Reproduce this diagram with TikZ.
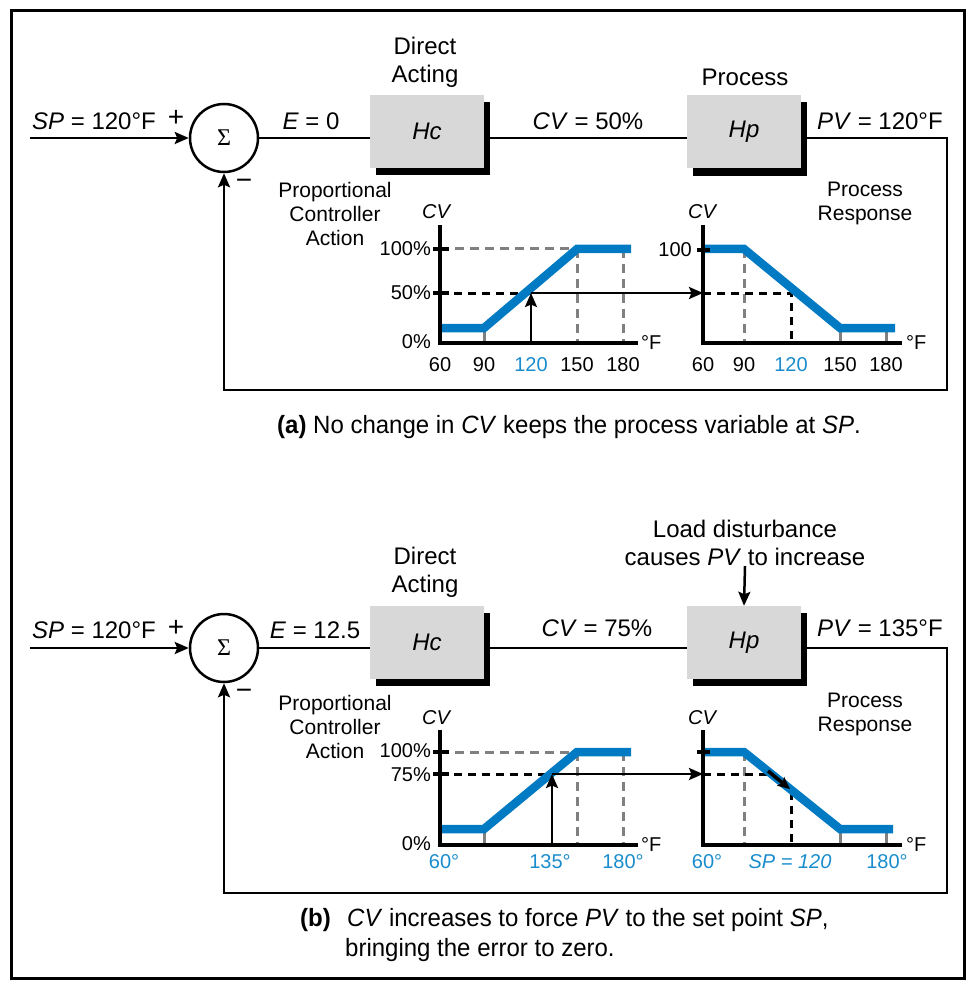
\documentclass[tikz,border=0pt]{standalone}
\usepackage{fontspec}
\setmainfont{Liberation Sans}
\newfontfamily\capfont[FakeStretch=0.96]{Liberation Sans}
\newfontfamily\sigfont{Liberation Serif}
\usetikzlibrary{arrows.meta,backgrounds}
\definecolor{cblue}{RGB}{0,122,194}
\definecolor{lblue}{RGB}{25,140,205}
\definecolor{boxgray}{RGB}{216,216,216}
\definecolor{dgray}{RGB}{128,128,128}
\begin{document}
\begin{tikzpicture}[x=1pt,y=-1pt,
  big/.style={font=\fontsize{24}{28}\selectfont, inner sep=0pt, align=center},
  mid/.style={font=\fontsize{21}{24}\selectfont, inner sep=0pt, align=center},
  tck/.style={font=\fontsize{20}{24}\selectfont, inner sep=0pt},
  btck/.style={tck, text=lblue},
  cvl/.style={font=\fontsize{20}{22}\selectfont\itshape, inner sep=0pt},
  capn/.style={font=\capfont\fontsize{25}{30}\selectfont, inner sep=0pt, align=left},
  pm/.style={font=\fontsize{28}{30}\selectfont, inner sep=0pt},
  sumnode/.style={circle, draw, line width=2.5pt, minimum size=68pt, inner sep=0pt, font=\sigfont\fontsize{24}{26}\selectfont},
  blockbox/.style={fill=boxgray, minimum width=114pt, minimum height=73pt, inner sep=0pt, font=\fontsize{24}{28}\selectfont\itshape},
  conn/.style={line width=2.5pt},
  arr/.style={line width=2.5pt, -{Stealth[length=14pt,width=12pt,inset=2.5pt]}},
  axisl/.style={line width=3.5pt},
  curve/.style={line width=8.5pt, cblue},
  gdash/.style={line width=3pt, dgray, dash pattern=on 9pt off 6pt},
  kdash/.style={line width=3pt, black, dash pattern=on 8pt off 6pt},
  gtick/.style={line width=3pt, dgray},
]
\useasboundingbox (0,0) rectangle (966,981);
\draw[line width=3pt] (11,11) rectangle (964,978);

% ================= (a) =================
\node[sumnode] (sumA) at (224,138) {Σ};
\node[blockbox] (hcA) at (427,131.5) {Hc};
\node[blockbox] (hpA) at (744,132) {Hp};
\begin{scope}[on background layer]
  \fill ([xshift=6pt,yshift=-7pt]hcA.south west) rectangle ([xshift=6pt,yshift=-7pt]hcA.north east);
  \fill ([xshift=6pt,yshift=-7pt]hpA.south west) rectangle ([xshift=6pt,yshift=-7pt]hpA.north east);
\end{scope}
\coordinate (spA) at (30,138);
\coordinate (fbA) at (947,390);
\draw[arr] (spA) -- (sumA.west);
\draw[conn] (sumA.east) -- (sumA.east -| hcA.west);
\draw[conn] (sumA.east -| hcA.east) -- (sumA.east -| hpA.west);
\draw[arr] (sumA.east -| hpA.east) -| (fbA) -| (sumA.south);

\node[big] (spLA) at (94,121) {\textit{SP} = 120°F};
\node[pm] (plusA) at (176,118) {+};
\node[pm] (minusA) at (244,184) {−};
\node[big] (eA) at (311,121) {\textit{E} = 0};
\node[big] (daA) at (425,62) {Direct\\Acting};
\node[big] (cvA) at (588,121) {\textit{CV} = 50\%};
\node[big] (procA) at (745,77) {Process};
\node[big] (pvA) at (880,121) {\textit{PV} = 120°F};
\node[mid] (pcaA) at (335,214) {Proportional\\Controller\\Action};
\node[mid] (prA) at (865,203) {Process\\Response};

% graph 1 (a)
\draw[gdash] (440,249) -- (577,249);
\draw[gdash] (577,249) -- (577,343);
\draw[gdash] (623,249) -- (623,343);
\draw[gtick] (484,330) -- (484,343);
\draw[kdash] (440,293) -- (531,293);
\draw[curve] (440,328) -- (484,328) -- (577,249) -- (631,249);
\draw[axisl] (440,225) -- (440,343) -- (638,343);
\draw[axisl] (433,249) -- (449,249);
\draw[axisl] (433,293) -- (449,293);
\coordinate (opA) at (531,293);
\coordinate (xA) at (531,343);
\coordinate (ax2A) at (703,293);
\draw[arr] (xA) -- (opA);
\draw[arr] (opA) -- (ax2A);
\node[tck, anchor=east] (l100A) at (431,249) {100\%};
\node[tck, anchor=east] (l50A) at (431,293) {50\%};
\node[tck, anchor=east] (l0A) at (431,342) {0\%};
\node[tck] (x60A) at (440,365) {60};
\node[tck] (x90A) at (484,365) {90};
\node[btck] (x120A) at (531,365) {120};
\node[tck] (x150A) at (577,365) {150};
\node[tck] (x180A) at (623,365) {180};
\node[tck, anchor=west] (fA) at (641,343) {°F};
\node[cvl] (cvyA) at (436,212) {CV};

% graph 2 (a)
\draw[gdash] (744,249) -- (744,343);
\draw[gtick] (840,330) -- (840,343);
\draw[gtick] (886,330) -- (886,343);
\draw[kdash] (703,293) -- (791,293) -- (791,343);
\draw[curve] (703,249) -- (744,249) -- (840,328) -- (895,328);
\draw[axisl] (703,225) -- (703,343) -- (902,343);
\draw[axisl] (697,250) -- (710,250);
\node[tck, anchor=east] (p100A) at (692,250) {100};
\node[tck] (y60A) at (703,365) {60};
\node[tck] (y90A) at (744,365) {90};
\node[btck] (y120A) at (791,365) {120};
\node[tck] (y150A) at (840,365) {150};
\node[tck] (y180A) at (886,365) {180};
\node[tck, anchor=west] (f2A) at (906,343) {°F};
\node[cvl] (cvy2A) at (702,212) {CV};

\node[capn, anchor=west] (capA) at (277,427) {\textbf{(a)} No change in \textit{CV} keeps the process variable at \textit{SP}.};

% ================= (b) =================
\node[sumnode] (sumB) at (224,648) {Σ};
\node[blockbox] (hcB) at (427,642.5) {Hc};
\node[blockbox] (hpB) at (744,642.5) {Hp};
\begin{scope}[on background layer]
  \fill ([xshift=6pt,yshift=-7pt]hcB.south west) rectangle ([xshift=6pt,yshift=-7pt]hcB.north east);
  \fill ([xshift=6pt,yshift=-7pt]hpB.south west) rectangle ([xshift=6pt,yshift=-7pt]hpB.north east);
\end{scope}
\coordinate (spB) at (30,648);
\coordinate (fbB) at (947,893);
\draw[arr] (spB) -- (sumB.west);
\draw[conn] (sumB.east) -- (sumB.east -| hcB.west);
\draw[conn] (sumB.east -| hcB.east) -- (sumB.east -| hpB.west);
\draw[arr] (sumB.east -| hpB.east) -| (fbB) -| (sumB.south);

\node[big] (spLB) at (94,630) {\textit{SP} = 120°F};
\node[pm] (plusB) at (176,628) {+};
\node[pm] (minusB) at (244,694) {−};
\node[big] (eB) at (315,630) {\textit{E} = 12.5};
\node[big] (daB) at (425,572) {Direct\\Acting};
\node[big] (cvB) at (597,628) {\textit{CV} = 75\%};
\node[big] (ldB) at (745,543) {Load disturbance\\causes \textit{PV} to increase};
\draw[arr] (ldB.south) -- (hpB.north);
\node[big] (pvB) at (880,628) {\textit{PV} = 135°F};
\node[mid] (pcaB) at (335,727) {Proportional\\Controller\\Action};
\node[mid] (prB) at (865,714) {Process\\Response};

% graph 1 (b)
\draw[gdash] (440,752) -- (577,752);
\draw[gdash] (577,752) -- (577,845);
\draw[gdash] (623,752) -- (623,845);
\draw[gtick] (484,832) -- (484,845);
\draw[kdash] (440,774) -- (552,774);
\draw[curve] (440,829) -- (484,829) -- (577,752) -- (631,752);
\draw[axisl] (440,730) -- (440,845) -- (638,845);
\draw[axisl] (433,752) -- (449,752);
\draw[axisl] (433,774) -- (449,774);
\coordinate (opB) at (552,774);
\coordinate (xB) at (552,845);
\coordinate (ax2B) at (703,774);
\draw[arr] (xB) -- (opB);
\draw[arr] (opB) -- (ax2B);
\node[tck, anchor=east] (l100B) at (431,751) {100\%};
\node[tck, anchor=east] (l75B) at (431,775) {75\%};
\node[tck, anchor=east] (l0B) at (431,844) {0\%};
\node[btck] (x60B) at (444,862) {60°};
\node[btck] (x135B) at (550,862) {135°};
\node[btck] (x180B) at (623,862) {180°};
\node[tck, anchor=west] (fB) at (641,845) {°F};
\node[cvl] (cvyB) at (436,718) {CV};

% graph 2 (b)
\draw[gdash] (744,752) -- (744,845);
\draw[gtick] (840,832) -- (840,845);
\draw[gtick] (886,832) -- (886,845);
\draw[kdash] (703,774) -- (771,774);
\draw[kdash] (791,792) -- (791,845);
\draw[curve] (703,752) -- (744,752) -- (840,829) -- (893,829);
\draw[axisl] (703,730) -- (703,845) -- (902,845);
\draw[axisl] (697,752) -- (710,752);
\coordinate (sl1B) at (768,771);
\coordinate (sl2B) at (790,789);
\draw[line width=3.5pt, -{Stealth[length=12pt,width=11pt,inset=2pt]}] (sl1B) -- (sl2B);
\node[btck] (y60B) at (707,862) {60°};
\node[btck] (ySPB) at (790,862) {\itshape SP = 120};
\node[btck] (y180B) at (887,862) {180°};
\node[tck, anchor=west] (f2B) at (906,845) {°F};
\node[cvl] (cvy2B) at (702,718) {CV};

\node[capn, anchor=west] (capB1) at (300,920) {\textbf{(b)}};
\node[capn, anchor=west] (capB2) at (347,920) {\textit{CV} increases to force \textit{PV} to the set point \textit{SP},};
\node[capn, anchor=west] (capB3) at (345,950) {bringing the error to zero.};
\end{tikzpicture}
\end{document}
